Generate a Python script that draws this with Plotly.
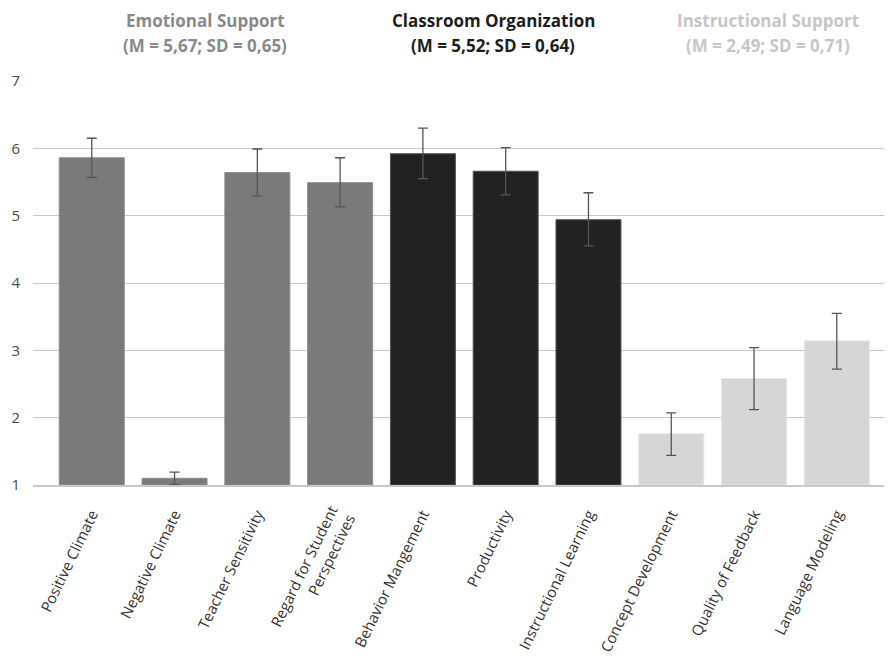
import plotly.graph_objects as go

categories = ["Positive Climate", "Negative Climate", "Teacher Sensitivity",
              "Regard for Student<br>Perspectives", "Behavior Mangement", "Productivity",
              "Instructional Learning", "Concept Development", "Quality of Feedback",
              "Language Modeling"]
means = [5.86, 1.10, 5.64, 5.49, 5.92, 5.66, 4.94, 1.76, 2.58, 3.14]
err_plus = [0.29, 0.09, 0.35, 0.37, 0.38, 0.35, 0.40, 0.31, 0.46, 0.41]
err_minus = [0.29, 0.09, 0.35, 0.36, 0.37, 0.35, 0.39, 0.32, 0.46, 0.42]
domains = ["ES", "ES", "ES", "ES", "CO", "CO", "CO", "IS", "IS", "IS"]

domain_colors = {"ES": "#7a7a7a", "CO": "#222222", "IS": "#d6d6d6"}
outline_colors = {"ES": "#8c8c8c", "CO": "#555555", "IS": "#e4e4e4"}
domain_titles = [
    ("Emotional Support", "(M = 5,67; SD = 0,65)", "#8a8a8a", 1.37),
    ("Classroom Organization", "(M = 5,52; SD = 0,64)", "#1e1e1e", 4.85),
    ("Instructional Support", "(M = 2,49; SD = 0,71)", "#c6c6c6", 8.17),
]

fig = go.Figure()
fig.add_trace(go.Bar(
    x=categories, y=[m - 1 for m in means], base=1,
    marker=dict(color=[domain_colors[d] for d in domains],
                line=dict(color=[outline_colors[d] for d in domains], width=1)),
    error_y=dict(type="data", symmetric=False, array=err_plus, arrayminus=err_minus,
                 color="#555555", thickness=1.3, width=5),
    hoverinfo="skip",
))

for title, stats, col, xpos in domain_titles:
    fig.add_annotation(x=xpos, xref="x", y=1.0, yref="paper", yshift=74,
                       text=f"<b>{title}</b>", showarrow=False,
                       font=dict(size=17, color=col, family="Open Sans"))
    fig.add_annotation(x=xpos, xref="x", y=1.0, yref="paper", yshift=49,
                       text=f"<b>{stats}</b>", showarrow=False,
                       font=dict(size=17, color=col, family="Open Sans"))

fig.update_layout(
    width=890, height=667,
    margin=dict(l=33, r=6, t=81, b=182),
    paper_bgcolor="white", plot_bgcolor="white",
    bargap=0.215, showlegend=False,
    font=dict(family="Open Sans", color="#404040"),
    xaxis=dict(tickangle=-64, tickfont=dict(size=15, color="#333333"),
               range=[-0.71, 9.57], automargin=False, ticklabelstandoff=13,
               showline=True, linecolor="#c8c8c8", linewidth=1.5, ticks=""),
    yaxis=dict(range=[1, 7], dtick=1, tick0=1, showgrid=True, gridcolor="#c8c8c8",
               gridwidth=1.3, zeroline=False, ticks="", automargin=False,
               tickfont=dict(size=15, color="#4a4a4a"), ticklabelstandoff=12),
)

fig.write_html("out.html")
